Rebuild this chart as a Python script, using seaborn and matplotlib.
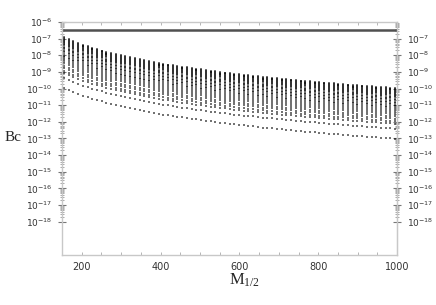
import numpy as np
import pandas as pd
import matplotlib
matplotlib.use('Agg')
import matplotlib.pyplot as plt
import matplotlib.ticker as mticker
import seaborn as sns

# scan points along M_1/2
m_half = [155, 167, 179, 191, 203, 215, 227, 239, 251, 263, 275, 287, 299, 311,
          323, 335, 347, 359, 371, 383, 395, 407, 419, 431, 443, 455, 467, 479,
          491, 503, 515, 527, 539, 551, 563, 575, 587, 599, 611, 623, 635, 647,
          659, 671, 683, 695, 707, 719, 731, 743, 755, 767, 779, 791, 803, 815,
          827, 839, 851, 863, 875, 887, 899, 911, 923, 935, 947, 959, 971, 983, 995]

# log10 of the upper edge of each column
top_log = [-6.93, -7.05, -7.17, -7.27, -7.37, -7.47, -7.55, -7.64, -7.72, -7.80,
           -7.87, -7.94, -8.00, -8.07, -8.13, -8.19, -8.25, -8.30, -8.36, -8.41,
           -8.46, -8.51, -8.56, -8.60, -8.65, -8.69, -8.73, -8.77, -8.81, -8.85,
           -8.89, -8.93, -8.97, -9.00, -9.04, -9.07, -9.11, -9.14, -9.17, -9.20,
           -9.23, -9.27, -9.30, -9.32, -9.35, -9.38, -9.41, -9.44, -9.46, -9.49,
           -9.52, -9.54, -9.57, -9.59, -9.62, -9.64, -9.67, -9.69, -9.71, -9.74,
           -9.76, -9.78, -9.80, -9.82, -9.85, -9.87, -9.89, -9.91, -9.93, -9.95, -9.97]

# decades below the upper edge at which points sit in every column
offsets = [0.0, 0.05, 0.1, 0.15, 0.21, 0.27, 0.33, 0.4, 0.47, 0.55, 0.63,
           0.72, 0.81, 0.9, 1.0, 1.1, 1.2, 1.32, 1.44, 1.56, 1.7, 1.84, 2.0,
           2.15, 2.45, 3.05]

limit = 3.3e-7  # horizontal bound

rows = []
for m, t in zip(m_half, top_log):
    for off in offsets:
        rows.append({'m': m, 'bc': 10 ** (t - off)})
df = pd.DataFrame(rows)

sns.set_style('white')
plt.rcParams['mathtext.fontset'] = 'dejavusans'

fig = plt.figure(figsize=(4.36, 3.05), dpi=100)
ax = fig.add_axes([0.142, 0.164, 0.769, 0.764])

sns.scatterplot(data=df, x='m', y='bc', ax=ax, marker='s', s=1.6,
                color='black', alpha=0.55, linewidth=0, legend=False)
ax.axhline(limit, color='#505050', lw=1.8)

ax.set_yscale('log')
ax.set_xlim(150, 1000)
ax.set_ylim(1e-20, 1e-6)

spine_c = '#c8c8c8'
for s in ax.spines.values():
    s.set_color(spine_c)
    s.set_linewidth(1.0)

decades = [10.0 ** k for k in range(-18, -5)]
minors = [d * k for d in decades[:-1] for k in range(2, 10)]
ax.yaxis.set_major_locator(mticker.FixedLocator(decades))
ax.yaxis.set_minor_locator(mticker.FixedLocator(minors))
ax.yaxis.set_major_formatter(mticker.LogFormatterMathtext())
ax.yaxis.set_minor_formatter(mticker.NullFormatter())

ax.xaxis.set_major_locator(mticker.FixedLocator([200, 400, 600, 800, 1000]))
ax.xaxis.set_minor_locator(mticker.MultipleLocator(50))

ax.tick_params(axis='y', which='major', direction='inout', length=6, width=0.8,
               color='#777777', labelsize=6.5, labelcolor='#333333', pad=4,
               left=True)
ax.tick_params(axis='y', which='minor', direction='inout', length=3, width=0.6,
               color='#999999', left=True)
ax.tick_params(axis='x', which='both', direction='in', length=2, width=0.6,
               color='#aaaaaa', labelsize=7, labelcolor='#333333',
               top=True, bottom=True, pad=5)

sec = ax.secondary_yaxis('right')
sec.set_yscale('log')
sec.yaxis.set_major_locator(mticker.FixedLocator(decades[:-1]))
sec.yaxis.set_minor_locator(mticker.FixedLocator(minors))
sec.yaxis.set_major_formatter(mticker.LogFormatterMathtext())
sec.yaxis.set_minor_formatter(mticker.NullFormatter())
sec.spines['right'].set_color(spine_c)
sec.tick_params(which='major', direction='inout', length=6, width=0.8,
                color='#777777', labelsize=6.5, labelcolor='#333333', pad=4)
sec.tick_params(which='minor', direction='inout', length=3, width=0.6,
                color='#999999')

ax.set_xlabel('')
ax.set_ylabel('')
fig.text(0.562, 0.08, r'$\mathregular{M_{1/2}}$', fontsize=12,
         family='Liberation Serif', ha='center', va='center')
fig.text(0.03, 0.55, 'Bc', fontsize=11, family='Liberation Serif',
         ha='center', va='center')

fig.savefig('out.png', dpi=100)
